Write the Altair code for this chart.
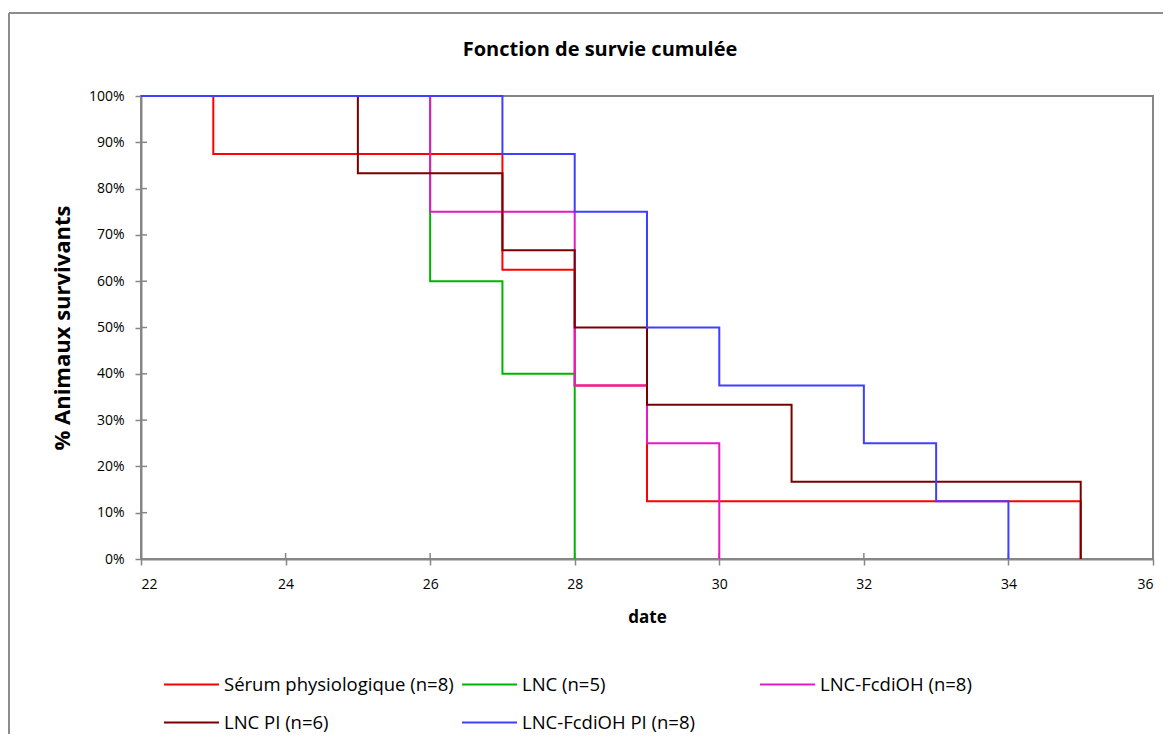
import altair as alt
import pandas as pd

title_text = "Fonction de survie cumulée"

series_names = [
    "Sérum physiologique (n=8)",
    "LNC (n=5)",
    "LNC-FcdiOH (n=8)",
    "LNC PI (n=6)",
    "LNC-FcdiOH PI (n=8)",
]
series_colors = ["#FF0000", "#00B400", "#E619C3", "#7A0000", "#3F3FFF"]
# legend is filled column by column: reorder so rows read like the reference
legend_order = [0, 3, 1, 4, 2]

serum_days = [22, 23, 27, 28, 29, 35]
serum_surv = [1.0, 0.875, 0.625, 0.375, 0.125, 0.0]

lnc_days = [22, 26, 27, 28]
lnc_surv = [1.0, 0.6, 0.4, 0.0]

fcd_days = [22, 26, 28, 29, 30]
fcd_surv = [1.0, 0.75, 0.375, 0.25, 0.0]

lncpi_days = [22, 25, 27, 28, 29, 31, 35]
lncpi_surv = [1.0, 0.8333, 0.6667, 0.5, 0.3333, 0.1667, 0.0]

fcdpi_days = [22, 27, 28, 29, 30, 32, 33, 34]
fcdpi_surv = [1.0, 0.875, 0.75, 0.5, 0.375, 0.25, 0.125, 0.0]

x_ticks = [22, 24, 26, 28, 30, 32, 34, 36]
y_ticks = [0, 0.1, 0.2, 0.3, 0.4, 0.5, 0.6, 0.7, 0.8, 0.9, 1.0]

rows = []
for i, (name, days, surv) in enumerate(zip(
        series_names,
        [serum_days, lnc_days, fcd_days, lncpi_days, fcdpi_days],
        [serum_surv, lnc_surv, fcd_surv, lncpi_surv, fcdpi_surv])):
    for d, s in zip(days, surv):
        rows.append({"serie": name, "date": d, "surv": s, "ordre": i})
df = pd.DataFrame(rows)

dom = [series_names[k] for k in legend_order]
rng = [series_colors[k] for k in legend_order]

FONT = "Open Sans"
GREY = "#868686"
W, H = 1012, 463

xscale = alt.Scale(domain=[22, 36], nice=False, zero=False)
yscale = alt.Scale(domain=[0, 1], nice=False)

lines = alt.Chart(df).mark_line(interpolate="step-after", strokeWidth=2).encode(
    x=alt.X("date:Q", scale=xscale,
            axis=alt.Axis(values=x_ticks, format="d", title="date", grid=False,
                          tickSize=6, labelPadding=12, labelFontSize=14,
                          titleFontSize=17, titleFontWeight="bold",
                          titleX=506, titleY=58, titleBaseline="middle")),
    y=alt.Y("surv:Q", scale=yscale,
            axis=alt.Axis(values=y_ticks, format=".0%", title="% Animaux survivants",
                          grid=False, tickSize=6, labelPadding=11, labelFontSize=14,
                          titleFontSize=22, titleFontWeight="bold",
                          titleAngle=270, titleAlign="center", titleBaseline="middle",
                          titleX=-79, titleY=231.5)),
    color=alt.Color("serie:N",
                    scale=alt.Scale(domain=dom, range=rng),
                    legend=alt.Legend(title=None, orient="none", legendX=22, legendY=560,
                                      columns=3, gridAlign="all", columnPadding=4,
                                      rowPadding=-13, symbolType="stroke",
                                      symbolSize=3025, symbolStrokeWidth=2,
                                      labelFontSize=18.5, labelOffset=4, labelLimit=400)),
    detail="serie:N",
    order=alt.Order("date:Q"),
)

# inner halves of the tick marks (Excel ticks cross the axis line)
xt_df = pd.DataFrame({"date": x_ticks, "lo": [0.0] * len(x_ticks),
                      "hi": [6.0 / H] * len(x_ticks)})
yt_df = pd.DataFrame({"surv": y_ticks, "lo": [22.0] * len(y_ticks),
                      "hi": [22.0 + 6.0 * 14 / W] * len(y_ticks)})
xt = alt.Chart(xt_df).mark_rule(color=GREY, strokeWidth=1.5).encode(
    x=alt.X("date:Q", scale=xscale), y=alt.Y("lo:Q", scale=yscale), y2="hi:Q")
yt = alt.Chart(yt_df).mark_rule(color=GREY, strokeWidth=1.5).encode(
    y=alt.Y("surv:Q", scale=yscale), x=alt.X("lo:Q", scale=xscale), x2="hi:Q")

one = pd.DataFrame({"t": [title_text]})
border_top = alt.Chart(one).mark_rule(color="#8C8C8C", strokeWidth=2).encode(
    x=alt.value(-132), x2=alt.value(1040), y=alt.value(-83))
border_left = alt.Chart(one).mark_rule(color="#8C8C8C", strokeWidth=2).encode(
    x=alt.value(-132), y=alt.value(-83), y2=alt.value(700))
title = alt.Chart(one).mark_text(font=FONT, fontSize=20, fontWeight="bold",
                                 color="black", align="center", baseline="middle").encode(
    text="t:N", x=alt.value(459), y=alt.value(-46))

chart = alt.layer(border_top, border_left, title, xt, yt, lines).properties(
    width=W, height=H,
    autosize=alt.AutoSizeParams(type="none"),
    padding={"left": 133, "top": 88, "right": 10, "bottom": 175},
).configure(font=FONT).configure_view(
    stroke=GREY, strokeWidth=2
).configure_axis(
    domainColor=GREY, domainWidth=2, tickColor=GREY, tickWidth=1.5,
    labelColor="black", titleColor="black", labelFont=FONT, titleFont=FONT
).configure_legend(labelFont=FONT, labelColor="black")

chart.save("out.html", embed_options={"renderer": "svg", "actions": False})
